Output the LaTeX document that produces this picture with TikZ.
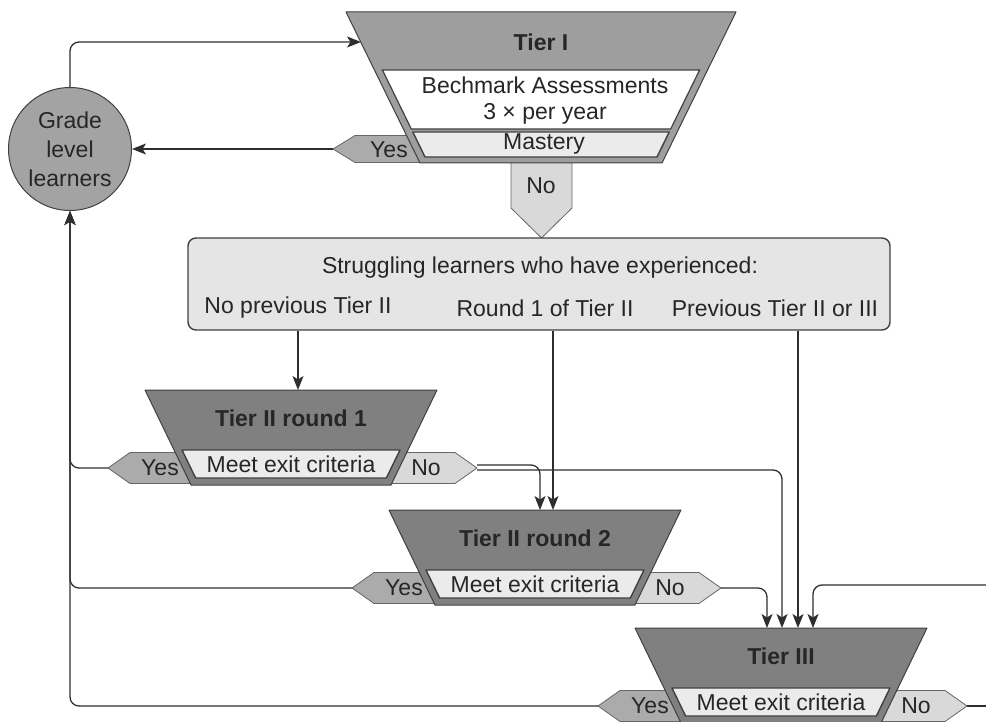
\documentclass[tikz,border=0pt]{standalone}
\usepackage{fontspec}
\setmainfont{Liberation Sans}
\usetikzlibrary{arrows.meta,calc}

\definecolor{tieronefill}{gray}{0.62}
\definecolor{tierfill}{gray}{0.50}
\definecolor{circfill}{gray}{0.64}
\definecolor{yesfill}{gray}{0.67}
\definecolor{nofill}{gray}{0.85}
\definecolor{boxfill}{gray}{0.90}
\definecolor{bandfill}{gray}{0.92}
\definecolor{edgec}{gray}{0.25}
\definecolor{linec}{gray}{0.18}

\tikzset{
  every node/.style={font=\fontsize{23}{29}\selectfont, text=black!85, inner sep=0pt},
  titletext/.style={font=\fontsize{23}{29}\selectfont\bfseries},
  bodyshape/.style={draw=edgec, line width=1pt, line join=round},
  bandshape/.style={draw=edgec, line width=1.4pt, line join=round, fill=bandfill},
  yestag/.style={draw=edgec!80, line width=0.8pt, fill=yesfill, line join=round},
  notag/.style={draw=edgec!80, line width=0.8pt, fill=nofill, line join=round},
  conn/.style={draw=linec, line width=1.3pt, rounded corners=9pt},
  arr/.style={conn, -{Stealth[length=14pt,width=11pt,inset=3.5pt]}},
}

% One of the lower tiers: #1 name, #2 centre x, #3 top y, #4 title, #5 band text
\newcommand\lowertier[5]{%
  \begin{scope}[shift={(#2,#3)}]
    \draw[yestag] (-183,78) -- (-161,62.5) -- (-60,62.5) -- (-60,93.5) -- (-161,93.5) -- cycle;
    \draw[notag] (186,78) -- (164,62.5) -- (60,62.5) -- (60,93.5) -- (164,93.5) -- cycle;
    \draw[bodyshape, fill=tierfill] (-146,0) -- (146,0) -- (100,95) -- (-100,95) -- cycle;
    \draw[bandshape] (-109,60) -- (109,60) -- (95.4,88) -- (-95.4,88) -- cycle;
    \node[titletext] (#1) at (0,28) {#4};
    \node (#1band) at (0,74) {#5};
    \node (#1yes) at (-131,78) {Yes};
    \node (#1no) at (135,78) {No};
    \coordinate (#1top) at (0,0);
    \coordinate (#1yestip) at (-183,78);
    \coordinate (#1notip) at (186,78);
  \end{scope}}

\begin{document}
\begin{tikzpicture}[x=1pt,y=-1pt]
\useasboundingbox (0,0) rectangle (986,722);

% Tier I funnel with its Yes/No exits
\draw[yestag] (333,149) -- (355,135.5) -- (470,135.5) -- (470,162.5) -- (355,162.5) -- cycle;
\draw[notag] (511,150) -- (572,150) -- (572,208) -- (541.5,238) -- (511,208) -- cycle;
\draw[bodyshape, fill=tieronefill] (346,12) -- (736,12) -- (662,163) -- (420,163) -- cycle;
\draw[draw=edgec, line width=1.2pt, fill=white] (382.4,70) -- (699.6,70) -- (670.7,129) -- (411.3,129) -- cycle;
\draw[bandshape] (412.8,132) -- (669.2,132) -- (657,157) -- (425,157) -- cycle;
\node[titletext] (t1) at (541,42) {Tier I};
\node (t1bench) at (545,85) {Bechmark Assessments};
\node (t1freq) at (545,114) {3 × per year};
\node (t1mastery) at (544,144) {Mastery};
\node (t1yes) at (389,150) {Yes};
\node (t1no) at (541,186) {No};
\coordinate (t1yestip) at (333,149);
\coordinate (t1in) at (361,42);

% Grade level learners
\node[circle, draw=edgec, line width=1pt, fill=circfill, minimum size=123pt, align=center]
  (circ) at (70,149) {Grade\\level\\learners};

% Struggling learners box
\node[draw=edgec, line width=1.4pt, fill=boxfill, rounded corners=8pt,
      minimum width=702pt, minimum height=92pt] (box) at (539,284) {};
\node (boxtitle) at (540,268) {Struggling learners who have experienced:};
\node (lab1) at (298,308) {No previous Tier II};
\node (lab2) at (545,308) {Round 1 of Tier II};
\node (lab3) at (775,308) {Previous Tier II or III};

% Lower tiers
\lowertier{t2a}{291}{390}{Tier II round 1}{Meet exit criteria}
\lowertier{t2b}{535}{510}{Tier II round 2}{Meet exit criteria}
\lowertier{t3}{781}{628}{Tier III}{Meet exit criteria}

\coordinate (rightin) at (986,585);
\coordinate (rightout) at (986,706);

% Connectors
\draw[arr] (circ.north) |- (t1in);
\draw[arr] (t1yestip) -- (t1yestip -| circ.east);

\draw[arr] (lab1 |- box.south) -- (lab1 |- t2atop);
\draw[arr] ([xshift=18pt]t2btop |- box.south) -- ([xshift=18pt]t2btop);
\draw[arr] ([xshift=17pt]t3top |- box.south) -- ([xshift=17pt]t3top);

\draw[arr] (t2ayestip) -| (circ.south);
\draw[arr] (t2byestip) -| (circ.south);
\draw[arr] (t3yestip) -| (circ.south);

\draw[arr] ([yshift=3pt]t2anotip) -| ([xshift=5pt]t2btop);
\draw[arr] ([yshift=-2pt]t2anotip) -| ([xshift=1pt]t3top);
\draw[arr] (t2bnotip) -| ([xshift=-14pt]t3top);
\draw[arr] (rightin) -| ([xshift=32pt]t3top);
\draw[conn] (t3notip) -- (rightout);

\end{tikzpicture}
\end{document}
